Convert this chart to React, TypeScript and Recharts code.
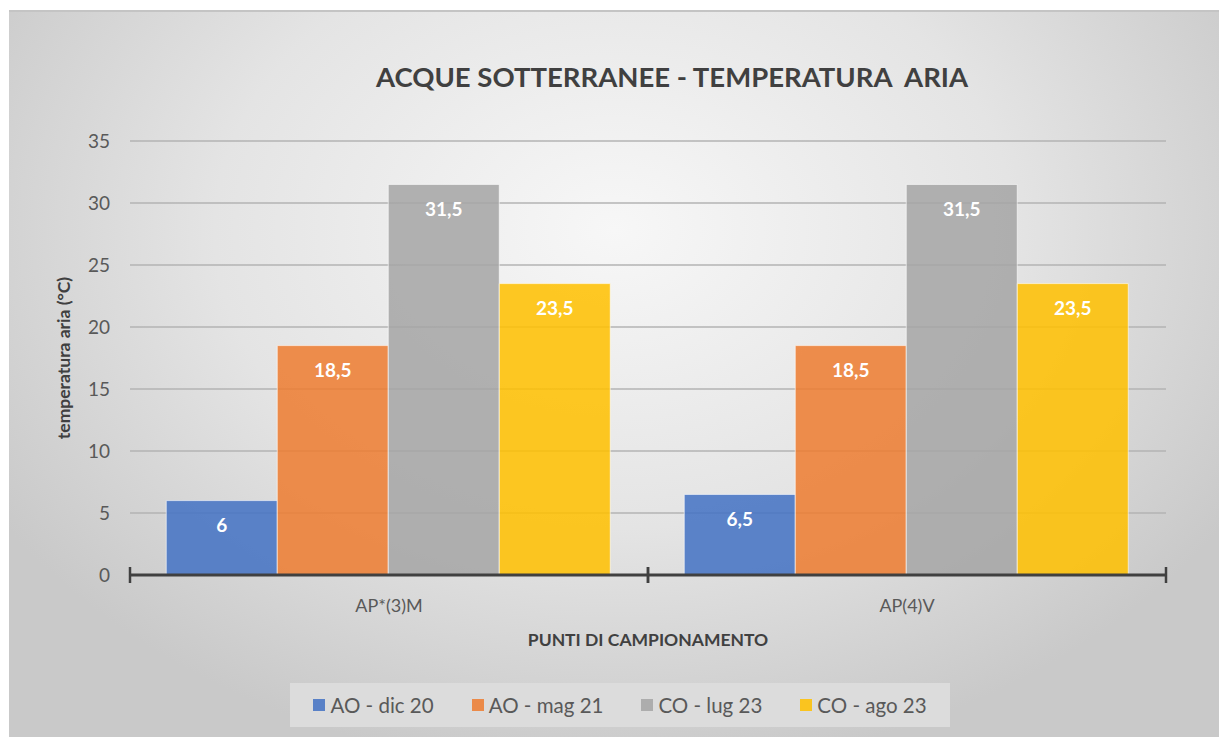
import { BarChart, Bar, XAxis, YAxis, CartesianGrid, LabelList } from 'recharts';

const categories = ['AP*(3)M', 'AP(4)V'];
const aoDic20 = [6, 6.5];
const aoMag21 = [18.5, 18.5];
const coLug23 = [31.5, 31.5];
const coAgo23 = [23.5, 23.5];
const yTicks = [0, 5, 10, 15, 20, 25, 30, 35];

const series = [
  { key: 'aoDic20', name: 'AO - dic 20', color: '#4472C4', values: aoDic20 },
  { key: 'aoMag21', name: 'AO - mag 21', color: '#ED7D31', values: aoMag21 },
  { key: 'coLug23', name: 'CO - lug 23', color: '#A5A5A5', values: coLug23 },
  { key: 'coAgo23', name: 'CO - ago 23', color: '#FFC000', values: coAgo23 },
];

const chartData = categories.map((name, i) => {
  const row: Record<string, string | number> = { name };
  series.forEach((s) => {
    row[s.key] = s.values[i];
  });
  return row;
});

const FONT = 'Lato, "Open Sans", sans-serif';

const formatValue = (v: any) => String(v).replace('.', ',');

// category label in the middle, tick marks on the category boundaries
const CategoryTick = (props: any) => {
  const { x, y, payload, width, visibleTicksCount } = props;
  const half = payload?.offset ?? width / (visibleTicksCount * 2);
  return (
    <g>
      <line x1={x - half} x2={x - half} y1={y - 8} y2={y + 8} stroke="#404040" strokeWidth={2.5} />
      <line x1={x + half} x2={x + half} y1={y - 8} y2={y + 8} stroke="#404040" strokeWidth={2.5} />
      <text x={x} y={y + 37} textAnchor="middle" fill="#595959" fontSize={18} fontFamily={FONT}>
        {payload.value}
      </text>
    </g>
  );
};

const YTitle = (props: any) => {
  const { viewBox } = props;
  const cx = viewBox.x - 7;
  const cy = viewBox.y + viewBox.height / 2;
  return (
    <text
      x={cx}
      y={cy}
      transform={`rotate(-90 ${cx} ${cy})`}
      textAnchor="middle"
      dominantBaseline="central"
      fill="#404040"
      fontSize={17.5}
      fontWeight="bold"
      fontFamily={FONT}
    >
      temperatura aria (°C)
    </text>
  );
};

const XTitle = (props: any) => {
  const { viewBox } = props;
  const cx = viewBox.x + viewBox.width / 2;
  return (
    <text
      x={cx}
      y={viewBox.y + 71}
      textAnchor="middle"
      fill="#404040"
      fontSize={17.5}
      fontWeight="bold"
      fontFamily={FONT}
    >
      PUNTI DI CAMPIONAMENTO
    </text>
  );
};

export default function App() {
  return (
    <div
      style={{
        position: 'absolute',
        left: 0,
        top: 0,
        width: 1219,
        height: 737,
        background: '#fff',
        fontFamily: FONT,
      }}
    >
      <div
        style={{
          position: 'absolute',
          left: 9,
          top: 10,
          right: 0,
          bottom: 0,
          borderTop: '2px solid #c4c4c4',
          background: 'radial-gradient(ellipse 60% 75% at 50% 30%, #f7f7f7 0%, #e4e4e4 55%, #c9c9c9 100%)',
        }}
      />
      <div
        style={{
          position: 'absolute',
          left: 0,
          top: 60,
          width: 1344,
          textAlign: 'center',
          fontSize: 27.5,
          fontWeight: 'bold',
          color: '#404040',
          whiteSpace: 'pre',
        }}
      >
        {'ACQUE SOTTERRANEE - TEMPERATURA  ARIA'}
      </div>
      <div style={{ position: 'absolute', left: 0, top: 0 }}>
        <BarChart
          width={1219}
          height={737}
          data={chartData}
          margin={{ top: 141, right: 53, left: 70, bottom: 122 }}
          barCategoryGap="7%"
          barGap={0}
        >
          <CartesianGrid vertical={false} stroke="#b3b3b3" strokeWidth={1.5} />
          <YAxis
            width={60}
            domain={[0, 35]}
            ticks={yTicks}
            axisLine={false}
            tickLine={false}
            tickMargin={14}
            tick={{ fill: '#595959', fontSize: 19, fontFamily: FONT }}
            label={{ content: <YTitle /> }}
          />
          <XAxis
            dataKey="name"
            height={40}
            axisLine={{ stroke: '#404040', strokeWidth: 3 }}
            tickLine={false}
            tickSize={0}
            tickMargin={0}
            tick={<CategoryTick />}
            label={{ content: <XTitle /> }}
          />
          {series.map((s) => (
            <Bar
              key={s.key}
              dataKey={s.key}
              name={s.name}
              fill={s.color}
              fillOpacity={0.86}
              stroke="#ffffff"
              strokeOpacity={0.6}
              strokeWidth={1}
              isAnimationActive={false}
            >
              <LabelList
                dataKey={s.key}
                position="insideTop"
                offset={18}
                formatter={formatValue}
                fill="#ffffff"
                fontSize={19}
                fontWeight="bold"
                fontFamily={FONT}
              />
            </Bar>
          ))}
        </BarChart>
      </div>
      <div
        style={{
          position: 'absolute',
          left: 290,
          top: 683,
          width: 660,
          height: 44,
          background: '#dcdcdc',
          display: 'flex',
          alignItems: 'center',
          justifyContent: 'center',
          gap: 38,
          fontSize: 20.5,
          color: '#595959',
        }}
      >
        {series.map((s) => (
          <div key={s.key} style={{ display: 'flex', alignItems: 'center', gap: 5 }}>
            <span style={{ display: 'inline-block', width: 12, height: 12, background: s.color, opacity: 0.86 }} />
            <span>{s.name}</span>
          </div>
        ))}
      </div>
    </div>
  );
}
